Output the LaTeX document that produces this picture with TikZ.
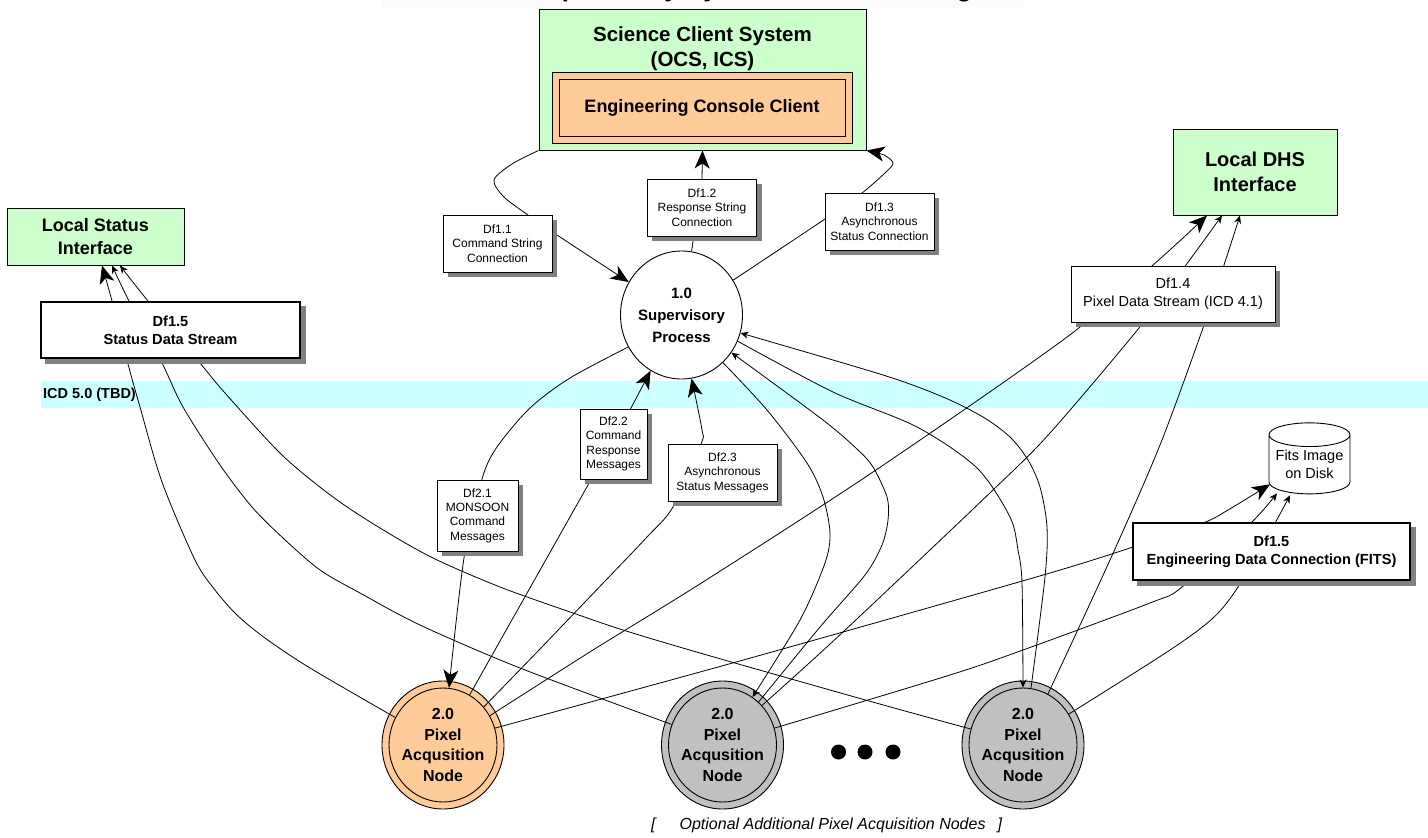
\documentclass[tikz,border=0pt]{standalone}
\usepackage{fontspec}
\setmainfont{Liberation Sans}
\usetikzlibrary{arrows.meta,shapes.geometric,calc}
\pgfdeclarelayer{back}\pgfdeclarelayer{shade}\pgfdeclarelayer{front}
\pgfsetlayers{back,main,shade,front}
\definecolor{grn}{HTML}{CCFFCC}
\definecolor{org}{HTML}{FFCC99}
\definecolor{gry}{HTML}{C0C0C0}
\definecolor{cyn}{HTML}{CCFFFF}
\definecolor{shd}{HTML}{808080}
\newcommand{\fs}[2]{\fontsize{#1pt}{#2pt}\selectfont}
\tikzset{
  plain/.style={draw=black,line width=.9pt,inner sep=0pt,align=center,rectangle},
  greenbox/.style={plain,fill=grn,line width=1pt},
  dfbox/.style={plain,fill=white,line width=.9pt},
  smalldf/.style={dfbox,font=\fs{12}{14.4}},
  bigdf/.style={dfbox,font=\fs{14.5}{18}},
  bolddf/.style={dfbox,font=\fs{14.6}{18}\bfseries,line width=1.3pt},
  ring/.style={ellipse,draw=black,line width=.9pt,inner sep=0pt,minimum width=122pt,minimum height=128pt},
  core/.style={ellipse,draw=black,line width=.9pt,inner sep=0pt,minimum width=108pt,minimum height=114pt},
  nodetxt/.style={inner sep=0pt,align=center,font=\fs{16}{20.5}\bfseries},
  conn/.style={draw=black,line width=.8pt},
  bigtip/.style={conn,-{Stealth[length=18pt,width=15pt,inset=5pt]}},
  smalltip/.style={conn,-{Stealth[length=8pt,width=7pt,inset=2.5pt]}},
  crv/.style={smooth,tension=.5}
}
\begin{document}
\begin{tikzpicture}[x=1pt,y=-1pt]
\useasboundingbox (0,0) rectangle (1428,838);
\begin{pgfonlayer}{back}
  \fill[white] (0,0) rectangle (1428,838);
  \fill[black!1.5] (381,0) rectangle (1024,8);
  \fill[cyn] (41,381) rectangle (1428,408);
\end{pgfonlayer}
\node[anchor=base,inner sep=0pt,font=\fs{26}{26}\bfseries] (title) at (702,-4) {MONSOON Supervisory System Data Flow Diagram};
\node[anchor=west,inner sep=0pt,font=\fs{14.5}{16}\bfseries] (icd) at (43,394.5) {ICD 5.0 (TBD)};

% circles
\node[ring,fill=white] (sup) at (681.5,315) {};
\node[nodetxt,font=\fs{15}{22}\bfseries] (supt) at (681.5,315) {1.0\\Supervisory\\Process};
\node[ring,fill=org] (n1) at (443,745) {};
\node[core,fill=org] (n1i) at (443,745) {};
\node[ring,fill=gry] (n2) at (722.5,745) {};
\node[core,fill=gry] (n2i) at (722.5,745) {};
\node[ring,fill=gry] (n3) at (1023,745) {};
\node[core,fill=gry] (n3i) at (1023,745) {};
\node[nodetxt] (n1t) at (443,745) {2.0\\Pixel\\Acqusition\\Node};
\node[nodetxt] (n2t) at (722.5,745) {2.0\\Pixel\\Acqusition\\Node};
\node[nodetxt] (n3t) at (1023,745) {2.0\\Pixel\\Acqusition\\Node};
\node[circle,fill=black,inner sep=0pt,minimum size=15pt] (d1) at (838.5,752) {};
\node[circle,fill=black,inner sep=0pt,minimum size=15pt] (d2) at (865,752) {};
\node[circle,fill=black,inner sep=0pt,minimum size=15pt] (d3) at (893,752) {};
\node[anchor=base west,inner sep=0pt,font=\fs{16}{18}\itshape] (opt) at (651,829) {[\hspace{24pt}Optional Additional Pixel Acquisition Nodes\hspace{12pt}]};

% boxes
\begin{pgfonlayer}{front}
\node[greenbox,minimum width=327pt,minimum height=141pt] (sci) at (702.5,79.5) {};
\node[inner sep=0pt,align=center,font=\fs{20.5}{25}\bfseries] (scit) at (702.5,49) {Science Client System\\(OCS, ICS)};
\node[plain,fill=org,minimum width=300pt,minimum height=71pt] (eo) at (702,107.5) {};
\node[plain,fill=org,minimum width=286pt,minimum height=57pt,font=\fs{18}{20}\bfseries] (ei) at (702,107.5) {Engineering Console Client};
\node[greenbox,minimum width=177pt,minimum height=57pt,font=\fs{18}{22.5}\bfseries] (lstat) at (95.5,236.5) {Local Status\\Interface};
\node[greenbox,minimum width=164pt,minimum height=86pt,font=\fs{20}{25}\bfseries] (ldhs) at (1255,172) {Local DHS\\Interface};
\node[smalldf,minimum width=109pt,minimum height=57pt] (df11) at (497.5,243.5) {Df1.1\\Command String\\Connection};
\node[smalldf,minimum width=109pt,minimum height=57pt] (df12) at (702,207.5) {Df1.2\\Response String\\Connection};
\node[smalldf,minimum width=109pt,minimum height=57pt] (df13) at (879.5,221.5) {Df1.3\\Asynchronous\\Status Connection};
\node[smalldf,minimum width=81pt,minimum height=71pt] (df21) at (477.5,515.5) {Df2.1\\MONSOON\\Command\\Messages};
\node[smalldf,minimum width=67pt,minimum height=70pt] (df22) at (613.5,444) {Df2.2\\Command\\Response\\Messages};
\node[smalldf,minimum width=109pt,minimum height=57pt] (df23) at (722.5,472.5) {Df2.3\\Asynchronous\\Status Messages};
\node[bolddf,minimum width=259pt,minimum height=56pt] (df15) at (170.5,330) {Df1.5\\Status Data Stream};
\node[bigdf,minimum width=204pt,minimum height=56pt] (df14) at (1173,294) {Df1.4\\Pixel Data Stream (ICD 4.1)};
\node[bolddf,minimum width=277pt,minimum height=57pt] (df15b) at (1271.5,551.5) {Df1.5\\Engineering Data Connection (FITS)};
\node[cylinder,shape border rotate=90,aspect=.35,draw=black,fill=white,line width=.9pt,inner sep=0pt,minimum width=81pt,minimum height=71pt,align=center,font=\fs{14.5}{18}] (disk) at (1309.5,464.5) {Fits Image\\on Disk};
\end{pgfonlayer}

% drop shadows of the data flow boxes
\begin{pgfonlayer}{shade}
\foreach \b in {df11,df12,df13,df21,df22,df23,df15,df14,df15b}
  \fill[shd] ([shift={(5pt,-5pt)}]\b.south west) rectangle ([shift={(5pt,-5pt)}]\b.north east);
\end{pgfonlayer}

% top group
\draw[bigtip] plot[crv] coordinates {(sci.south west) (512,164) (494,180) (504,197) (528,215) (557,235) (sup.148)};
\draw[bigtip] plot coordinates {(sup.81) (702,179) (sci.south)};
\draw[bigtip] plot[crv] coordinates {(sup.34) (825,219) (862,193) (886,172) (893,163) (884,155) (sci.south east)};

% pixel node 1 to supervisory
\draw[bigtip] plot[crv] coordinates {(sup.211) (570,378) (530,408) (497,447) (482,479) (464,558) (n1i.84)};
\draw[bigtip] plot coordinates {(n1i.62) (535,579) (588,485) (631,408) (sup.241.4)};
\draw[bigtip] plot[crv] coordinates {(n1i.43) (539,650) (607,579) (647,537) (673,507) (701,444) (702,430) (sup.279)};

% Supervisory <-> other nodes
\draw[smalltip] plot[crv] coordinates {(sup.311) (767,410) (807,463) (823,497) (830,533) (825,563) (800,620) (n2i.58)};
\draw[smalltip] plot[crv] coordinates {(n2i.50) (820,627) (865,575) (882,545) (888,520) (887,497) (873,467) (858,450) (823,420) (sup.323.6)};
\draw[smalltip] plot[crv] coordinates {(sup.335) (833,392) (917,427) (977,468) (1010,517) (1018,550) (1022,583) (n3i.90)};
\draw[smalltip] plot[crv] coordinates {(n3i.82) (1045,577) (1047,527) (1040,487) (1028,460) (1010,437) (983,417) (943,397) (883,375) (sup.343)};

% to local status
\draw[bigtip] plot[crv] coordinates {(n1i.150) (310,668) (265,638) (237,615) (215,590) (195,560) (162,482) (140,407) (128,364) (112,301) ([xshift=6.5pt]lstat.south)};
\draw[smalltip] plot[crv] coordinates {(n2i.158) (520,668) (420,625) (360,593) (320,570) (283,538) (252,507) (220,465) (183,407) (162,363) (129,301) ([xshift=16.5pt]lstat.south)};
\draw[smalltip] plot[crv] coordinates {(n3i.163) (869,701) (700,653) (623,630) (573,613) (500,587) (433,558) (380,528) (333,497) (282,455) (225,393) (200,363) (148,301) ([xshift=24.5pt]lstat.south)};

% to DHS
\draw[bigtip] plot[crv] coordinates {(n1i.32) (593,650) (703,582) (873,472) (1063,340) (1153,265) ([xshift=-48pt]ldhs.south)};
\draw[smalltip] plot[crv] coordinates {(n2i.45) (843,632) (993,490) (1050,433) (1139,328) (1186,265) ([xshift=-33pt]ldhs.south)};
\draw[smalltip] plot[crv] coordinates {(n3i.64) (1110,560) (1160,445) (1203,328) (1224,265) ([xshift=-15pt]ldhs.south)};

% to disk
\draw[bigtip] plot[crv] coordinates {(n1i.18) (700,672) (843,632) (1050,573) (1133,547) (1203,523) (1228,510) ([shift={(-39.5pt,10pt)}]disk.south)};
\draw[smalltip] plot[crv] coordinates {(n2i.18) (950,675) (1023,650) (1150,603) (1182,587) (1251,523) ([shift={(-32.5pt,1pt)}]disk.south)};
\draw[smalltip] plot[crv] coordinates {(n3i.34) (1170,650) (1213,618) (1238,587) (1275,523) ([shift={(-19.5pt,-1pt)}]disk.south)};
\end{tikzpicture}
\end{document}
